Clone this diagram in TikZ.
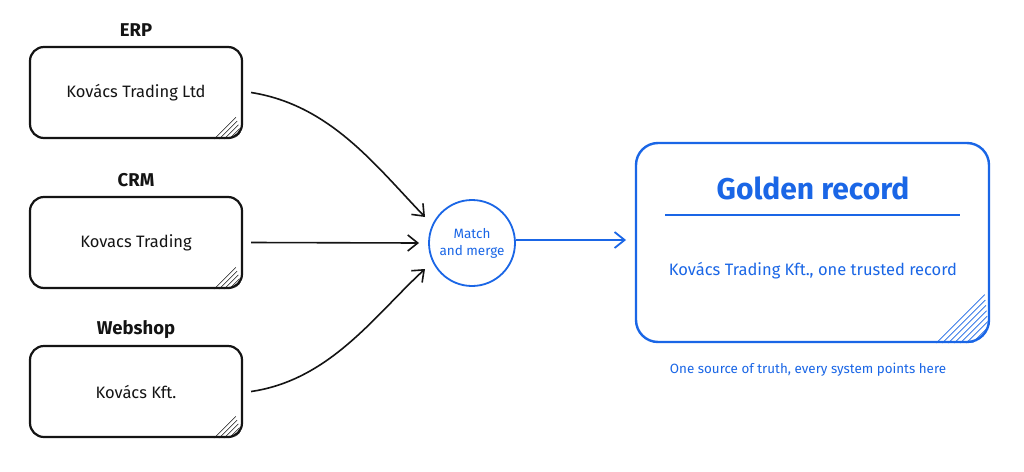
\documentclass[tikz,border=0pt]{standalone}
\usepackage{fontspec}
\setmainfont{Fira Sans}
\usetikzlibrary{arrows.meta}
\definecolor{gblue}{RGB}{26,102,230}
\definecolor{ink}{RGB}{20,20,20}
\tikzset{
  srcbox/.style={draw=ink, line width=2.2pt, rounded corners=14pt, minimum width=212pt, minimum height=91pt, inner sep=0pt, font=\fontsize{16.5}{18}\selectfont, text=ink},
  srclabel/.style={font=\bfseries\fontsize{18.5}{20}\selectfont, text=ink},
  conn/.style={draw=ink, line width=1.6pt, -{Straight Barb[length=10pt,width=16pt,line width=1.6pt]}},
  bconn/.style={draw=gblue, line width=1.8pt, -{Straight Barb[length=10pt,width=16pt,line width=1.8pt]}},
  hatch/.style={line width=0.6pt},
}
\begin{document}
\begin{tikzpicture}[x=1pt,y=-1pt]
\useasboundingbox[fill=white] (0,0) rectangle (1024,471);
% source boxes
\foreach \n/\cy/\lab/\txt in {erp/92.5/ERP/Kovács Trading Ltd, crm/242.5/CRM/Kovacs Trading, web/391.5/Webshop/Kovács Kft.}{
  \node[srcbox] (\n) at (136,\cy) {\txt};
  \node[srclabel] (\n lab) at (136,\cy-62) {\lab};
  \begin{scope}
    \clip[rounded corners=14pt] (\n.south west) rectangle (\n.north east);
    \foreach \s in {9,14,...,29}{
      \draw[hatch,draw=ink] ([xshift=-\s pt]\n.south east) -- ([xshift=-0.25*\s pt, yshift=0.75*\s pt]\n.south east);
    }
  \end{scope}
}
% match node
\node[draw=gblue, line width=1.8pt, circle, minimum size=86pt, inner sep=0pt, align=center, text=gblue, font=\fontsize{13.5}{17}\selectfont] (mm) at (472,243) {Match\\and merge};
% golden record
\node[draw=gblue, line width=2.4pt, rounded corners=22pt, minimum width=353pt, minimum height=199pt, inner sep=0pt] (gr) at (812.5,242.5) {};
\node[text=gblue, font=\bfseries\fontsize{30}{34}\selectfont] (grt) at (813,188) {Golden record};
\coordinate (rl) at (665,215);
\coordinate (rr) at (960,215);
\draw[gblue, line width=1.4pt] (rl) -- (rr);
\node[text=gblue, font=\fontsize{16.5}{18}\selectfont] (grx) at (813,271) {Kovács Trading Kft., one trusted record};
\node[text=gblue, font=\fontsize{13.4}{15}\selectfont] (cap) at (808,370) {One source of truth, every system points here};
\begin{scope}
  \clip[rounded corners=22pt] (gr.south west) rectangle (gr.north east);
  \foreach \s in {12,18,...,54}{
    \draw[hatch,draw=gblue] ([xshift=-\s pt]gr.south east) -- ([xshift=-0.1*\s pt, yshift=0.9*\s pt]gr.south east);
  }
\end{scope}
% connectors
\coordinate (e1) at (425,217);
\coordinate (e2) at (419,243);
\coordinate (e3) at (425,269);
\coordinate (e4) at (626,240);
\draw[conn] ([xshift=8pt]erp.east) .. controls (330,105) and (375,165) .. (e1);
\draw[conn] ([xshift=8pt]crm.east) -- (e2);
\draw[conn] ([xshift=8pt]web.east) .. controls (330,380) and (375,315) .. (e3);
\draw[bconn] ([yshift=3pt]mm.east) -- (e4);
\end{tikzpicture}
\end{document}
